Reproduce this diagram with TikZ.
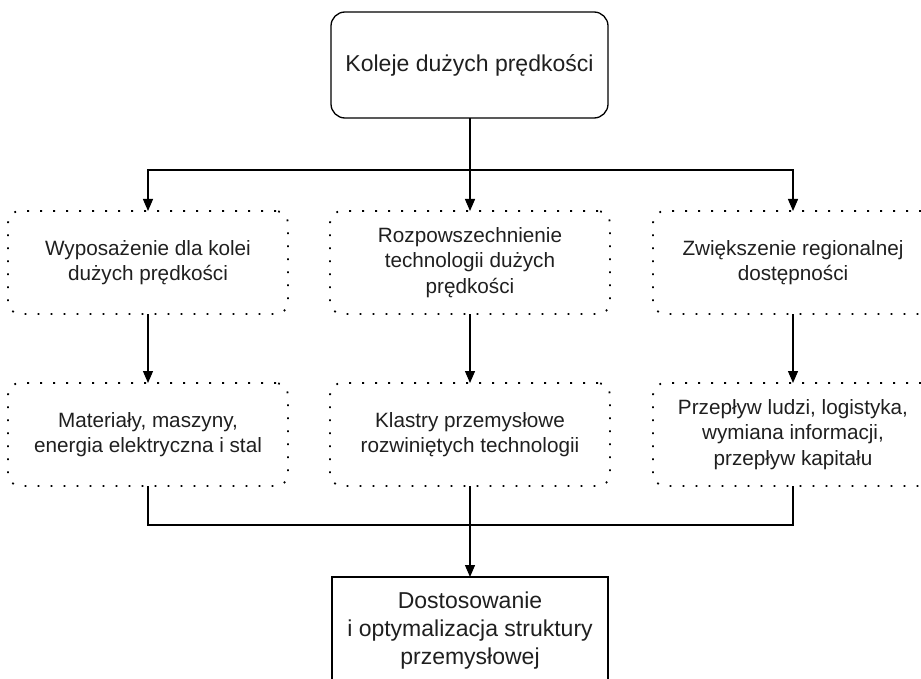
\documentclass[tikz,border=0pt]{standalone}
\usepackage{fontspec}
\setmainfont{Liberation Sans}
\usetikzlibrary{arrows.meta}
\begin{document}
\begin{tikzpicture}[x=1pt,y=-1pt,
  every node/.style={inner sep=0pt, outer sep=0pt, align=center, text=black!88},
  topbox/.style={draw, line width=1.3pt, rounded corners=14pt, minimum width=277pt, minimum height=106pt, font=\fontsize{23}{28}\selectfont},
  dotbox/.style={draw, line width=1.8pt, dash pattern=on 1.8pt off 11.2pt, rounded corners=12pt, minimum width=280pt, minimum height=103pt, font=\fontsize{20.7}{25.5}\selectfont},
  endbox/.style={draw, line width=1.3pt, minimum width=276pt, minimum height=108pt, font=\fontsize{23}{28}\selectfont},
  conn/.style={draw, line width=1.3pt},
  arr/.style={conn, -{Triangle[length=12pt,width=10pt]}}
]
\clip (0,0) rectangle (921,679);
\node[topbox] (top) at (469.5,65) {Koleje dużych prędkości};
\node[dotbox] (b1) at (148,262.5) {Wyposażenie dla kolei\\dużych prędkości};
\node[dotbox] (b2) at (470,262.5) {Rozpowszechnienie\\technologii dużych\\prędkości};
\node[dotbox] (b3) at (793,262.5) {Zwiększenie regionalnej\\dostępności};
\node[dotbox] (c1) at (148,434.5) {Materiały, maszyny,\\energia elektryczna i stal};
\node[dotbox] (c2) at (470,434.5) {Klastry przemysłowe\\rozwiniętych technologii};
\node[dotbox] (c3) at (793,434.5) {Przepływ ludzi, logistyka,\\wymiana informacji,\\przepływ kapitału};
\node[endbox] (end) at (470,631) {Dostosowanie\\i optymalizacja struktury\\przemysłowej};
\coordinate (j1) at (470,170);
\coordinate (j2) at (470,525);
\draw[conn] (top.south -| j1) -- (j1);
\draw[arr] (j1) -| (b1.north);
\draw[arr] (j1) -| (b3.north);
\draw[arr] (j1) -- (b2.north);
\draw[arr] (b1) -- (c1);
\draw[arr] (b2) -- (c2);
\draw[arr] (b3) -- (c3);
\draw[conn] (c1.south) |- (j2);
\draw[conn] (c3.south) |- (j2);
\draw[conn] (c2.south) -- (j2);
\draw[arr] (j2) -- (end.north);
\end{tikzpicture}
\end{document}
